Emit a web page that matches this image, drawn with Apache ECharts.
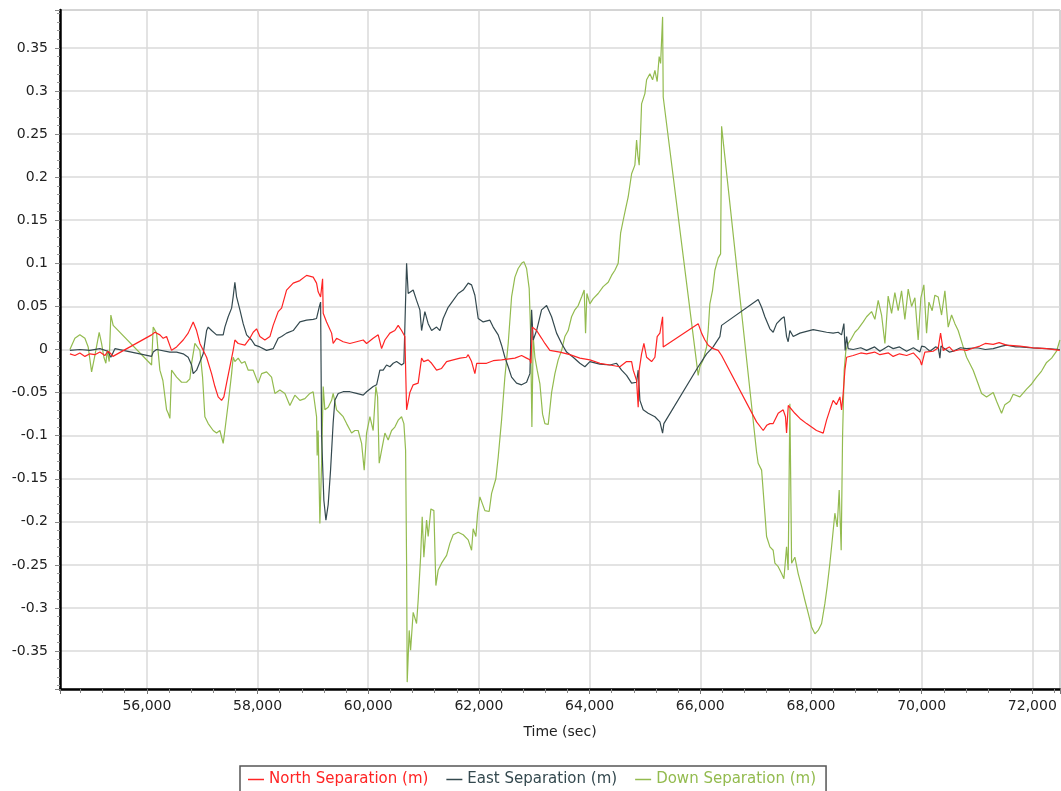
<!DOCTYPE html>
<html>
<head>
<meta charset="utf-8">
<script src="https://cdn.jsdelivr.net/npm/echarts@6/dist/echarts.min.js"></script>
<style>
  html, body { margin: 0; padding: 0; background: #fff; }
  #chart { width: 1061px; height: 791px; }
</style>
</head>
<body>
<div id="chart"></div>
<script>
// North separation (m)
const northTime = [54609,54700,54789,54880,54970,55060,55151,55240,55295,55350,55386,55422,
  56085,56145,56235,56295,56356,56446,56537,56656,56746,56837,56898,56958,57079,57169,57229,57288,57350,57391,57440,57500,57559,57590,57650,57771,57861,57921,57982,58042,58132,58223,58282,58373,58434,58524,58644,58765,58886,59005,59066,59095,59139,59175,59186,59247,59338,59366,59428,59547,59668,59789,59909,59970,60089,60180,60241,60301,60391,60481,60541,60602,60662,
  60693,60752,60812,60902,60964,61000,61083,61145,61235,61264,61325,61416,61535,61660,61775,61806,61867,61927,61960,62138,62258,62409,62650,62771,62861,62921,62939,
  62966,63042,63133,63192,63282,63463,63644,63824,64005,64186,64366,64547,64668,64759,64788,64849,64878,64896,64939,64981,65030,65120,65180,65221,65270,65319,65330,
  65962,66023,66083,66143,66233,66323,66385,
  67017,67046,67137,67200,67258,67317,67408,67498,67540,67559,67590,67619,67709,67800,67921,68011,68100,68221,68282,68342,68401,68460,68523,68553,68582,68613,68644,
  68763,68900,69005,69150,69245,69400,69486,69600,69728,69850,69968,69999,70058,70208,70300,70342,70389,70500,70570,70700,70812,70950,71052,71150,71293,71400,71535,71775,72016,72258,72498];
const northVal = [-0.005,-0.007,-0.004,-0.008,-0.005,-0.006,-0.003,-0.007,-0.002,-0.005,-0.008,-0.009,
  0.017,0.020,0.017,0.013,0.015,-0.001,0.003,0.011,0.019,0.032,0.022,0.007,-0.009,-0.028,-0.043,-0.055,-0.059,-0.055,-0.039,-0.020,-0.001,0.011,0.007,0.005,0.013,0.020,0.024,0.015,0.011,0.015,0.028,0.044,0.048,0.069,0.077,0.080,0.086,0.084,0.077,0.067,0.061,0.082,0.042,0.032,0.019,0.007,0.013,0.009,0.007,0.009,0.011,0.007,0.013,0.017,0.001,0.011,0.019,0.022,0.028,0.022,0.015,
  -0.070,-0.050,-0.041,-0.039,-0.010,-0.014,-0.012,-0.016,-0.024,-0.026,-0.022,-0.014,-0.012,-0.010,-0.009,-0.006,-0.014,-0.028,-0.016,-0.016,-0.013,-0.012,-0.010,-0.007,-0.010,-0.012,-0.016,
  0.026,0.022,0.013,0.007,-0.001,-0.003,-0.006,-0.010,-0.012,-0.016,-0.018,-0.020,-0.014,-0.014,-0.024,-0.036,-0.067,-0.024,-0.005,0.007,-0.009,-0.014,-0.009,0.015,0.019,0.038,0.003,
  0.030,0.019,0.011,0.005,0.001,-0.001,-0.007,
  -0.084,-0.086,-0.094,-0.088,-0.086,-0.086,-0.074,-0.070,-0.078,-0.097,-0.065,-0.063,-0.074,-0.080,-0.086,-0.090,-0.094,-0.097,-0.082,-0.070,-0.059,-0.064,-0.055,-0.070,-0.051,-0.024,-0.009,
  -0.007,-0.004,-0.005,-0.003,-0.006,-0.004,-0.008,-0.005,-0.007,-0.004,-0.012,-0.018,-0.003,-0.002,0.002,0.019,-0.001,0.003,-0.002,0.000,-0.001,0.002,0.004,0.007,0.006,0.008,0.005,0.004,0.002,0.001,-0.001];

// East separation (m)
const eastTime = [54609,54789,54970,55151,55295,55349,55422,
  56085,56114,56175,56416,56537,56656,56746,56808,56837,56898,57017,57079,57108,57169,57259,57379,57409,57469,57531,57559,57590,57621,57681,57740,57802,57892,57952,58042,58163,58282,58373,58434,58524,58644,58765,58886,59005,59066,59113,59139,
  59157,59198,59235,59276,59319,59366,59397,59457,59547,59668,59789,59909,59970,60089,60151,60210,60270,60331,60391,60451,60512,60602,60644,
  60693,60722,60812,60873,60933,60964,61023,61083,61145,61235,61295,61354,61444,61535,61625,61716,61806,61867,61927,61987,62077,62198,62258,62348,62409,62469,62529,62590,62680,62771,62861,62921,
  62952,62981,63042,63132,63223,63313,63403,63494,63584,63703,63824,63915,64005,64186,64366,64487,64578,64668,64759,64849,64878,64909,64968,65058,65180,65270,65319,65342,
  65962,66114,66233,66354,66385,
  67046,67108,67167,67258,67317,67379,67469,67516,67559,67588,67619,67679,67800,68040,68282,68401,68492,68553,68595,68618,68644,68673,
  68763,68900,69005,69150,69245,69400,69486,69600,69728,69850,69968,70000,70058,70150,70250,70300,70330,70350,70389,70500,70570,70700,70812,71000,71150,71293,71450,71535,71700,71775,72000,72258,72498];
const eastVal = [-0.001,0.000,-0.001,0.001,-0.002,-0.009,0.001,
  -0.008,-0.003,0.000,-0.003,-0.003,-0.005,-0.009,-0.018,-0.028,-0.024,-0.005,0.022,0.026,0.022,0.017,0.017,0.026,0.038,0.048,0.061,0.078,0.061,0.046,0.030,0.017,0.011,0.005,0.003,-0.001,0.001,0.013,0.015,0.019,0.022,0.032,0.034,0.035,0.036,0.049,0.055,
  -0.100,-0.175,-0.198,-0.180,-0.140,-0.085,-0.059,-0.051,-0.049,-0.049,-0.051,-0.053,-0.049,-0.043,-0.041,-0.024,-0.024,-0.018,-0.020,-0.016,-0.014,-0.018,-0.016,
  0.100,0.065,0.069,0.057,0.046,0.022,0.044,0.030,0.022,0.026,0.022,0.036,0.049,0.057,0.065,0.069,0.077,0.075,0.063,0.036,0.032,0.034,0.026,0.017,0.005,-0.009,-0.020,-0.032,-0.039,-0.041,-0.038,-0.028,
  0.046,0.011,0.022,0.046,0.051,0.038,0.019,0.007,-0.003,-0.009,-0.016,-0.020,-0.014,-0.017,-0.018,-0.016,-0.024,-0.030,-0.039,-0.038,-0.024,-0.059,-0.070,-0.074,-0.078,-0.084,-0.097,-0.086,
  -0.020,-0.005,0.003,0.015,0.028,
  0.058,0.049,0.038,0.024,0.020,0.030,0.036,0.038,0.015,0.009,0.022,0.015,0.019,0.023,0.020,0.019,0.020,0.017,0.030,-0.001,0.015,0.001,
  0.000,0.002,-0.001,0.003,-0.002,0.004,0.001,0.003,-0.002,0.002,-0.003,0.004,0.003,-0.002,0.003,0.002,-0.010,0.004,0.002,-0.003,-0.002,0.002,0.001,0.002,0.000,0.001,0.004,0.005,0.003,0.003,0.002,0.001,0.000];

// Down separation (m)
const downTime = [54609,54699,54789,54880,54939,55001,55060,55138,55181,55223,55259,55283,55319,55349,55391,
  56085,56114,56175,56204,56235,56289,56356,56385,56416,56446,56537,56627,56717,56777,56808,56867,56898,56958,57006,57048,57108,57198,57259,57319,57379,57409,57469,57531,57559,57590,57650,57711,57771,57831,57921,58011,58073,58163,58253,58313,58403,58494,58584,58674,58765,58855,58945,59005,59066,59077,59095,59126,59157,59186,59216,59276,59338,59366,59428,59488,59547,59609,59699,59759,59818,59880,59927,59970,60030,60089,60138,60169,60198,60241,60301,60360,60422,60481,60541,60602,60644,60675,
  60693,60704,60740,60765,60812,60873,60902,60946,60975,61005,61054,61083,61132,61186,61222,61264,61325,61416,61475,61535,61625,61716,61806,61867,61896,61945,61976,62017,62108,62185,62229,62306,62348,62409,62469,62529,62590,62650,62709,62771,62812,62861,62908,62933,62957,62981,63011,63053,63102,63150,63192,63252,63313,63373,63432,63494,63553,63613,63674,63734,63794,63855,63902,63927,63951,64005,64065,64155,64245,64336,64397,64457,64516,64560,64607,64656,64697,64759,64818,64849,64872,64896,64921,64939,64999,65030,65089,65138,65180,65221,65257,65283,65319,65330,
  65962,65993,66052,66114,66143,66173,66222,66264,66323,66367,66385,
  67017,67046,67108,67167,67198,67258,67317,67348,67408,67469,67511,67559,67588,67619,67650,67709,67769,67830,67890,67950,68011,68071,68130,68192,68251,68293,68342,68391,68432,68474,68510,68546,68571,68600,68631,68673,68734,68794,68853,68944,69005,69095,69155,69215,69276,69336,69395,69457,69516,69576,69637,69697,69757,69818,69878,69937,69986,70040,70089,70131,70190,70239,70299,70360,70420,70480,70541,70601,70660,70751,70812,70931,71022,71083,71173,71293,71354,71444,71504,71594,71654,71775,71896,71987,72077,72167,72258,72348,72438,72498];
const downVal = [0.000,0.013,0.017,0.013,0.003,-0.026,-0.007,0.020,0.007,-0.009,-0.016,-0.001,-0.014,0.040,0.028,
  -0.018,0.026,0.019,-0.003,-0.024,-0.036,-0.070,-0.074,-0.080,-0.024,-0.032,-0.038,-0.038,-0.034,-0.016,0.007,0.009,-0.001,-0.032,-0.078,-0.086,-0.094,-0.097,-0.094,-0.109,-0.094,-0.063,-0.028,-0.009,-0.014,-0.010,-0.016,-0.014,-0.024,-0.024,-0.039,-0.028,-0.026,-0.032,-0.051,-0.047,-0.051,-0.065,-0.053,-0.059,-0.057,-0.051,-0.049,-0.078,-0.123,-0.094,-0.202,-0.132,-0.043,-0.070,-0.067,-0.059,-0.051,-0.070,-0.074,-0.078,-0.086,-0.097,-0.094,-0.094,-0.109,-0.140,-0.097,-0.078,-0.094,-0.043,-0.055,-0.132,-0.117,-0.097,-0.105,-0.094,-0.090,-0.082,-0.078,-0.086,-0.117,
  -0.248,-0.386,-0.326,-0.349,-0.305,-0.318,-0.291,-0.241,-0.194,-0.241,-0.198,-0.217,-0.185,-0.187,-0.274,-0.256,-0.248,-0.239,-0.225,-0.215,-0.212,-0.215,-0.221,-0.233,-0.208,-0.217,-0.190,-0.171,-0.187,-0.188,-0.167,-0.150,-0.125,-0.082,-0.032,0.007,0.061,0.084,0.094,0.100,0.102,0.094,0.071,0.022,-0.090,0.015,-0.009,-0.024,-0.040,-0.075,-0.086,-0.087,-0.050,-0.028,-0.012,-0.001,0.015,0.022,0.038,0.046,0.051,0.061,0.069,0.019,0.065,0.053,0.059,0.065,0.073,0.078,0.086,0.092,0.100,0.135,0.150,0.165,0.177,0.204,0.214,0.243,0.225,0.214,0.251,0.285,0.297,0.313,0.320,0.313,0.324,0.311,0.340,0.332,0.386,0.293,
  -0.030,-0.020,-0.012,0.003,0.022,0.053,0.069,0.092,0.106,0.111,0.259,
  -0.119,-0.132,-0.140,-0.190,-0.217,-0.229,-0.233,-0.248,-0.252,-0.260,-0.266,-0.229,-0.256,-0.063,-0.248,-0.241,-0.260,-0.275,-0.291,-0.306,-0.322,-0.330,-0.326,-0.318,-0.295,-0.275,-0.248,-0.217,-0.190,-0.206,-0.163,-0.233,-0.101,-0.024,-0.001,0.007,0.013,0.020,0.024,0.032,0.038,0.044,0.035,0.057,0.040,0.007,0.062,0.042,0.066,0.045,0.068,0.035,0.070,0.050,0.060,0.011,0.060,0.075,0.019,0.055,0.045,0.063,0.061,0.040,0.068,0.026,0.040,0.030,0.022,0.003,-0.009,-0.024,-0.040,-0.051,-0.055,-0.050,-0.060,-0.074,-0.064,-0.060,-0.052,-0.055,-0.046,-0.040,-0.032,-0.025,-0.015,-0.010,-0.002,0.011];

const seriesNames = ['North Separation (m)', 'East Separation (m)', 'Down Separation (m)'];
const seriesColors = ['#ff2424', '#34494f', '#93bb4f'];

function pairs(ts, vs) {
  return ts.map((t, i) => [t, vs[i]]);
}

const chart = echarts.init(document.getElementById('chart'));
const font = 'DejaVu Sans';

const option = {
  animation: false,
  backgroundColor: '#fff',
  textStyle: { fontFamily: font },
  grid: {
    left: 60, right: 1, top: 10, bottom: 102,
    show: true, borderColor: '#8a8a8a', borderWidth: 1
  },
  legend: {
    left: 240, top: 766,
    padding: [6, 10, 8, 8],
    itemGap: 18,
    itemWidth: 16,
    itemHeight: 1.5,
    icon: 'rect',
    borderColor: '#555',
    borderWidth: 1.5,
    textStyle: { fontSize: 15, fontFamily: font },
    data: seriesNames.map((n, i) => ({ name: n, textStyle: { color: seriesColors[i] } }))
  },
  xAxis: {
    type: 'value',
    min: 54430,
    max: 72500,
    splitNumber: 9,
    name: 'Time (sec)',
    nameLocation: 'middle',
    nameGap: 36,
    nameTextStyle: { fontSize: 14, color: '#222', fontFamily: font },
    axisLine: { show: true, onZero: false, lineStyle: { color: '#000', width: 2.5 } },
    axisTick: { show: true, length: 5, lineStyle: { color: '#777' } },
    minorTick: { show: true, splitNumber: 5, length: 4, lineStyle: { color: '#888' } },
    axisLabel: { fontSize: 14, color: '#222', margin: 10, showMinLabel: false, showMaxLabel: false, fontFamily: font },
    splitLine: { show: true, lineStyle: { color: '#dadada', width: 1.5 } }
  },
  yAxis: {
    type: 'value',
    min: -0.394,
    max: 0.394,
    splitNumber: 16,
    axisLine: { show: true, onZero: false, lineStyle: { color: '#000', width: 2.5 } },
    axisTick: { show: true, length: 5, lineStyle: { color: '#888' } },
    minorTick: { show: true, splitNumber: 5, length: 3, lineStyle: { color: '#999' } },
    axisLabel: { fontSize: 14, color: '#222', margin: 12, showMinLabel: false, showMaxLabel: false, fontFamily: font },
    splitLine: { show: true, lineStyle: { color: '#dadada', width: 1.5 } }
  },
  series: [
    { name: seriesNames[0], data: pairs(northTime, northVal) },
    { name: seriesNames[1], data: pairs(eastTime, eastVal) },
    { name: seriesNames[2], data: pairs(downTime, downVal) }
  ].map((s, i) => Object.assign(s, {
    type: 'line',
    showSymbol: false,
    symbol: 'none',
    color: seriesColors[i],
    lineStyle: { width: 1.2, color: seriesColors[i] },
    z: 3 - i
  }))
};

chart.setOption(option);
</script>
</body>
</html>
